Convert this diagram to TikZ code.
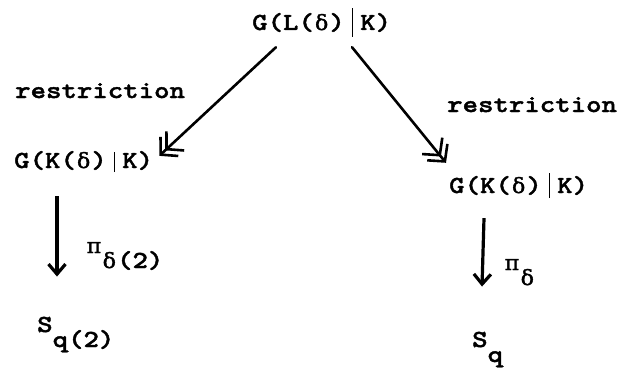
\documentclass[tikz,border=0pt]{standalone}
\usepackage{fontspec}
\newfontfamily\tw{lmmonolt10-bold.otf}[FakeStretch=1.2,FakeBold=1.6]
\newfontfamily\grk{DejaVu Serif}[FakeStretch=1.05,FakeBold=1.4]
\usetikzlibrary{arrows.meta}
\newlength{\cellw}
\tikzset{
  lbl/.style={inner sep=0pt, anchor=base west, font=\fontsize{24.5}{30}\tw\settowidth{\cellw}{M}},
  restr/.style={line width=2.6pt, line cap=round,
    -{Straight Barb[length=12pt,width=26pt,line width=2.6pt,sep=-7pt]Straight Barb[length=12pt,width=26pt,line width=2.6pt]}},
  vert/.style={line width=3.2pt,
    -{Straight Barb[length=10pt,width=17pt,line width=3.2pt]}}
}
% one monospace cell holding a Greek letter
\newcommand{\gk}[1]{\makebox[\cellw]{\fontsize{21}{30}\grk #1}}
% the tall typed bar
\newcommand{\tbar}[2]{\makebox[\cellw]{\rule[-#1]{1.8pt}{#2}}}
\newcommand{\lowsub}[1]{\raisebox{-15pt}{#1}}
\begin{document}
\begin{tikzpicture}[x=1pt,y=-1pt]
  \useasboundingbox (0,0) rectangle (623,369);
  % the group and its two restrictions
  \node[lbl] (top) at (252,30) {G(L(\gk{δ})\tbar{7pt}{29pt}K)};
  \node[lbl] (lg)  at (14,168) {G(K(\gk{δ})\tbar{4pt}{20pt}K)};
  \node[lbl] (rg)  at (449,193) {G(K(\gk{δ})\tbar{5pt}{25pt}K)};
  \node[lbl] (lr)  at (15,98)  {restriction};
  \node[lbl] (rr)  at (447,112) {restriction};
  % maps down to the symmetric groups
  \node[lbl] (lp)  at (86,253) {\gk{π}\lowsub{\gk{δ}(2)}};
  \node[lbl] (rp)  at (504,270) {\gk{π}\lowsub{\gk{δ}}};
  \node[lbl] (ls)  at (37,332) {S\lowsub{q(2)}};
  \node[lbl] (rs)  at (472,347) {S\lowsub{q}};
  % connector end points, tied to the nodes
  \coordinate (t1) at ([shift={(24pt,-10pt)}]top.south west);
  \coordinate (t2) at ([shift={(100pt,-10pt)}]top.south west);
  \coordinate (l1) at ([shift={(6pt,-5pt)}]lg.north east);
  \coordinate (r1) at ([shift={(-3pt,10pt)}]rg.north west);
  \draw[restr] (t1) -- (l1);
  \draw[restr] (t2) -- (r1);
  \coordinate (lv1) at ([shift={(43pt,-24pt)}]lg.south west);
  \coordinate (lv2) at ([shift={(20pt,40pt)}]ls.north west);
  \coordinate (rv1) at ([shift={(35pt,-20pt)}]rg.south west);
  \coordinate (rv2) at ([shift={(10pt,45pt)}]rs.north west);
  \draw[vert] (lv1) -- (lv2);
  \draw[vert] (rv1) -- (rv2);
\end{tikzpicture}
\end{document}
